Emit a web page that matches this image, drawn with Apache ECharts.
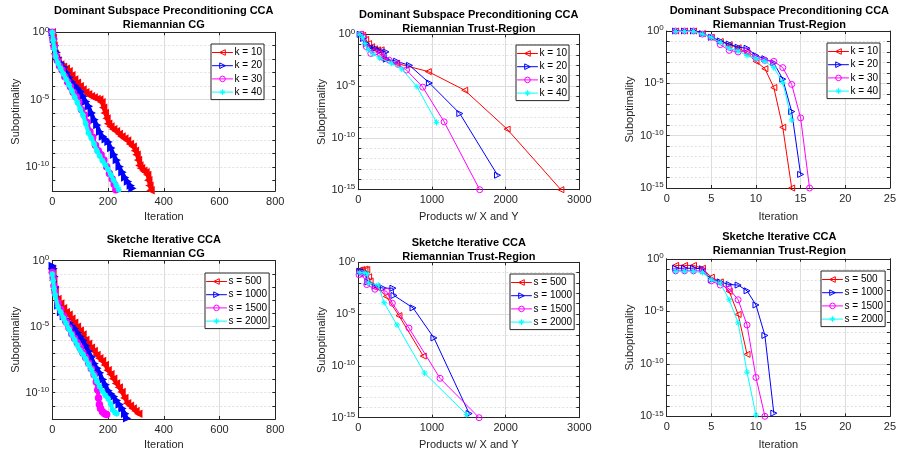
<!DOCTYPE html>
<html>
<head>
<meta charset="utf-8">
<script src="https://cdn.jsdelivr.net/npm/echarts@6/dist/echarts.min.js"></script>
<style>html,body{margin:0;padding:0;background:#fff}#c{width:899px;height:456px}</style>
</head>
<body>
<div id="c"></div>
<script>
// All y values are log10(suboptimality).
// ---------- Panel 1: Dominant Subspace Preconditioning CCA, Riemannian CG  [iteration, log10]
const dspCgK10 = [[0,0],[3,-0.4],[6,-1.0],[10,-1.6],[15,-1.9],[20,-2.1],[30,-2.4],[40,-2.55],[50,-2.7],[60,-2.9],[70,-3.2],[80,-3.5],[90,-3.75],[100,-4.0],[110,-4.25],[120,-4.45],[130,-4.6],[140,-4.75],[150,-4.85],[160,-4.95],[170,-5.0],[178,-5.2],[184,-5.6],[190,-6.0],[196,-6.4],[202,-6.8],[210,-7.0],[220,-7.2],[230,-7.35],[240,-7.55],[250,-7.75],[260,-7.9],[270,-8.05],[280,-8.3],[290,-8.5],[298,-8.8],[304,-9.1],[309,-9.5],[314,-9.9],[320,-10.1],[328,-10.3],[336,-10.4],[342,-10.6],[346,-11.0],[350,-11.4],[354,-11.75]];
const dspCgK20 = [[0,0],[4,-0.5],[8,-1.0],[14,-1.5],[20,-1.9],[30,-2.3],[40,-2.6],[50,-3.0],[60,-3.35],[70,-3.7],[80,-3.95],[90,-4.15],[100,-4.4],[110,-4.75],[120,-5.15],[130,-5.5],[140,-6.0],[150,-6.5],[160,-6.9],[170,-7.4],[180,-7.75],[190,-7.95],[200,-8.15],[210,-8.6],[220,-9.1],[230,-9.5],[240,-10.0],[250,-10.4],[260,-10.8],[270,-11.1],[280,-11.4],[286,-11.6]];
const dspCgK30 = [[0,0],[3,-0.5],[7,-1.1],[12,-1.7],[18,-2.1],[26,-2.5],[35,-2.8],[45,-3.3],[55,-3.7],[65,-4.05],[75,-4.45],[85,-4.8],[95,-5.2],[105,-5.75],[115,-6.15],[125,-6.7],[135,-7.4],[145,-7.8],[155,-8.4],[165,-8.8],[175,-9.1],[185,-9.5],[195,-10.0],[205,-10.5],[215,-10.9],[222,-11.3],[228,-11.7]];
const dspCgK40 = [[0,0],[3,-0.6],[7,-1.2],[12,-1.8],[20,-2.3],[30,-2.7],[40,-3.1],[50,-3.5],[60,-3.9],[70,-4.35],[80,-4.8],[90,-5.2],[100,-5.7],[110,-6.15],[120,-6.8],[130,-7.5],[140,-7.85],[150,-8.3],[160,-8.8],[170,-9.2],[180,-9.55],[190,-9.85],[200,-10.2],[210,-10.6],[220,-11.0],[230,-11.4],[238,-11.7]];

// ---------- Panel 2: Dominant Subspace Preconditioning CCA, Riemannian Trust-Region  [products, log10]
const dspTrK10 = [[30,0],[60,-0.1],[100,-0.5],[140,-0.9],[180,-1.2],[220,-1.4],[260,-1.5],[310,-1.5],[320,-2.3],[520,-2.8],[950,-3.6],[1445,-5.4],[2020,-9.15],[2750,-15]];
const dspTrK20 = [[25,0],[70,-0.4],[110,-0.9],[160,-1.25],[225,-1.35],[300,-1.6],[375,-1.7],[380,-2.4],[520,-2.6],[695,-3.0],[965,-4.7],[1378,-7.65],[1890,-13.6]];
const dspTrK30 = [[40,0],[75,-0.3],[110,-1.2],[170,-1.85],[230,-1.7],[300,-1.9],[320,-2.2],[420,-2.5],[540,-2.9],[655,-3.45],[875,-5.1],[1165,-8.45],[1648,-15]];
const dspTrK40 = [[20,0],[60,-0.3],[90,-0.9],[135,-1.5],[200,-1.9],[290,-2.3],[450,-2.8],[590,-3.35],[795,-5.05],[1062,-8.5]];

// ---------- Panel 3: Dominant Subspace Preconditioning CCA, Riemannian Trust-Region  [log10 per iteration 1..n]
const dspTrItK10 = [0,0,0,-0.25,-0.6,-1.0,-1.3,-1.6,-2.1,-2.9,-3.6,-5.4,-9.2,-15];
const dspTrItK20 = [0,0,0,-0.25,-0.6,-0.95,-1.25,-1.55,-1.65,-2.35,-2.65,-3.05,-4.6,-7.7,-13.7];
const dspTrItK30 = [0,0,0,-0.3,-0.6,-1.3,-1.85,-2.0,-1.9,-2.6,-2.8,-2.9,-3.5,-5.1,-8.3,-15];
const dspTrItK40 = [-0.05,-0.05,-0.05,-0.3,-0.6,-1.1,-1.65,-1.9,-2.35,-2.65,-2.9,-3.5,-4.9,-8.5];

// ---------- Panel 4: Sketche Iterative CCA, Riemannian CG  [iteration, log10]
const skCgS500 = [[0,-0.6],[2,-0.9],[5,-1.5],[10,-2.2],[20,-2.9],[30,-3.25],[40,-3.6],[50,-3.9],[60,-4.1],[70,-4.4],[80,-4.7],[90,-5.0],[100,-5.3],[110,-5.6],[120,-6.0],[130,-6.3],[140,-6.6],[150,-6.85],[160,-7.15],[170,-7.4],[180,-7.6],[190,-7.9],[200,-8.3],[210,-8.6],[220,-8.95],[230,-9.3],[240,-9.6],[250,-9.95],[260,-10.4],[270,-10.8],[280,-11.0],[290,-11.2],[300,-11.4],[310,-11.6]];
const skCgS1000 = [[0,-0.4],[3,-0.6],[6,-1.2],[10,-2.0],[20,-3.4],[30,-3.9],[40,-4.2],[50,-4.45],[60,-4.7],[70,-4.95],[80,-5.15],[90,-5.45],[100,-5.75],[110,-6.05],[120,-6.45],[130,-6.85],[140,-7.3],[150,-7.8],[160,-8.15],[170,-8.5],[180,-9.0],[190,-9.4],[200,-9.85],[210,-10.1],[220,-10.3],[230,-10.6],[240,-10.9],[250,-11.2],[260,-11.6],[267,-11.95]];
const skCgS1500 = [[0,-0.9],[3,-1.3],[6,-1.9],[10,-2.4],[20,-3.2],[30,-3.7],[40,-4.2],[50,-4.65],[60,-5.1],[70,-5.55],[80,-5.9],[90,-6.25],[100,-6.6],[110,-7.0],[120,-7.35],[130,-7.75],[140,-8.2],[150,-8.65],[158,-9.2],[163,-9.8],[166,-10.4],[169,-10.9],[173,-11.2],[180,-11.45],[188,-11.6],[195,-11.65]];
const skCgS2000 = [[0,-1.0],[3,-1.5],[6,-2.1],[10,-2.6],[20,-3.5],[30,-3.9],[40,-4.35],[50,-4.75],[60,-5.2],[70,-5.6],[80,-6.0],[90,-6.4],[100,-6.8],[110,-7.1],[120,-7.45],[130,-7.85],[140,-8.25],[150,-8.7],[160,-9.15],[170,-9.55],[180,-9.9],[190,-10.2],[200,-10.45],[210,-10.9],[216,-11.3],[224,-11.5],[231,-11.6]];

// ---------- Panel 5: Sketche Iterative CCA, Riemannian Trust-Region  [products, log10]
const skTrS500 = [[15,-0.75],[50,-0.7],[90,-0.65],[115,-0.7],[140,-1.4],[160,-1.8],[250,-2.4],[380,-3.3],[552,-5.15],[882,-9.05]];
const skTrS1000 = [[20,-0.85],[60,-0.9],[90,-1.0],[130,-1.9],[230,-2.3],[340,-2.5],[470,-2.5],[484,-3.2],[743,-4.4],[1027,-7.3],[1505,-14.6]];
const skTrS1500 = [[10,-1.2],[50,-1.1],[100,-1.3],[115,-2.15],[225,-2.6],[385,-2.8],[462,-3.95],[688,-6.35],[1110,-11.2],[1640,-15]];
const skTrS2000 = [[20,-1.0],[80,-1.0],[120,-1.1],[140,-2.0],[270,-2.2],[350,-3.9],[525,-6.05],[900,-10.7],[1470,-14.7]];

// ---------- Panel 6: Sketche Iterative CCA, Riemannian Trust-Region  [log10 per iteration 1..n]
const skTrItS500 = [-0.63,-0.63,-0.63,-0.9,-1.75,-2.2,-3.1,-5.3,-9.1];
const skTrItS1000 = [-0.9,-0.9,-0.9,-0.95,-2.0,-2.2,-2.45,-2.5,-3.05,-4.4,-7.3,-14.7];
const skTrItS1500 = [-1.15,-1.15,-1.15,-1.15,-2.1,-2.5,-2.85,-3.9,-6.3,-11.3,-15];
const skTrItS2000 = [-1.2,-1.2,-1.2,-1.3,-2.0,-2.3,-3.9,-6.1,-10.8,-14.9];

// ---------- labels
const kNames = ['k = 10', 'k = 20', 'k = 30', 'k = 40'];
const sNames = ['s = 500', 's = 1000', 's = 1500', 's = 2000'];
const titles = [
  ['Dominant Subspace Preconditioning CCA', 'Riemannian CG'],
  ['Dominant Subspace Preconditioning CCA', 'Riemannian Trust-Region'],
  ['Dominant Subspace Preconditioning CCA', 'Riemannian Trust-Region'],
  ['Sketche Iterative CCA', 'Riemannian CG'],
  ['Sketche Iterative CCA', 'Riemannian Trust-Region'],
  ['Sketche Iterative CCA', 'Riemannian Trust-Region']
];
const xNames = ['Iteration', 'Products w/ X and Y', 'Iteration', 'Iteration', 'Products w/ X and Y', 'Iteration'];
const yName = 'Suboptimality';

// ---------- styling / layout
const FONT = '"Liberation Sans", Arial, Helvetica, sans-serif';
const AX = '#262626';
const COLORS = ['#ff0000', '#0000ff', '#ff00ff', '#00ffff'];
const SYMBOLS = ['path://M0,5L10,0L10,10Z', 'path://M10,5L0,0L0,10Z', 'circle',
  'path://M5,0L5,10M0,5L10,5M1.5,1.5L8.5,8.5M8.5,1.5L1.5,8.5'];
const CLEAR = 'rgba(0,0,0,0)';

const toPairs = arr => arr.map((v, i) => [i + 1, v]);

const panels = [
  { grid: {left: 52.3, top: 32.3, width: 223, height: 158.7}, x: [0, 800, 200], yMin: -11.8, xGap: 20, yGap: 31,
    titleTop: 4, legend: [211, 44], names: kNames, dense: true,
    data: [dspCgK10, dspCgK20, dspCgK30, dspCgK40] },
  { grid: {left: 358.3, top: 34.3, width: 221, height: 155.4}, x: [0, 3000, 1000], yMin: -15, xGap: 22, yGap: 29,
    titleTop: 7.5, legend: [516, 45], names: kNames, dense: false,
    data: [dspTrK10, dspTrK20, dspTrK30, dspTrK40] },
  { grid: {left: 666.7, top: 31, width: 225.3, height: 157}, x: [0, 25, 5], yMin: -15, xGap: 23, yGap: 31,
    titleTop: 3.5, legend: [827, 43], names: kNames, dense: false,
    data: [toPairs(dspTrItK10), toPairs(dspTrItK20), toPairs(dspTrItK30), toPairs(dspTrItK40)] },
  { grid: {left: 52.3, top: 260.7, width: 223, height: 158.3}, x: [0, 800, 200], yMin: -12, xGap: 20, yGap: 31,
    titleTop: 232.5, legend: [205, 273], names: sNames, dense: true,
    data: [skCgS500, skCgS1000, skCgS1500, skCgS2000] },
  { grid: {left: 358.3, top: 262.3, width: 221, height: 155.4}, x: [0, 3000, 1000], yMin: -15, xGap: 22, yGap: 29,
    titleTop: 236, legend: [510, 274], names: sNames, dense: false,
    data: [skTrS500, skTrS1000, skTrS1500, skTrS2000] },
  { grid: {left: 666.7, top: 258.8, width: 225.3, height: 157.5}, x: [0, 25, 5], yMin: -15, xGap: 23, yGap: 31,
    titleTop: 229.5, legend: [821, 271], names: sNames, dense: false,
    data: [toPairs(skTrItS500), toPairs(skTrItS1000), toPairs(skTrItS1500), toPairs(skTrItS2000)] }
];

const option = {
  animation: false, backgroundColor: '#fff',
  grid: [], xAxis: [], yAxis: [], series: [], title: [], legend: []
};

panels.forEach((p, gi) => {
  option.grid.push(Object.assign({show: false, containLabel: false}, p.grid));
  const majors = [], decades = [];
  for (let d = 0; d >= p.yMin; d--) { decades.push(d); if (d % 5 === 0) majors.push(d); }
  const tickCommon = {show: true, inside: true, length: 3, lineStyle: {color: AX, width: 1}};
  // x axes (bottom with labels, top for the box)
  option.xAxis.push({
    gridIndex: gi, type: 'value', position: 'bottom', min: p.x[0], max: p.x[1], interval: p.x[2],
    axisLine: {show: true, onZero: false, lineStyle: {color: AX, width: 1}},
    axisTick: tickCommon,
    axisLabel: {color: AX, fontSize: 11, fontFamily: FONT, margin: 5, formatter: v => String(v)},
    splitLine: {show: true, showMinLine: false, showMaxLine: false, lineStyle: {color: '#dcdcdc', width: 1}},
    name: xNames[gi], nameLocation: 'middle', nameGap: p.xGap,
    nameTextStyle: {color: AX, fontSize: 11, fontFamily: FONT}
  });
  option.xAxis.push({
    gridIndex: gi, type: 'value', position: 'top', min: p.x[0], max: p.x[1], interval: p.x[2],
    axisLine: {show: true, onZero: false, lineStyle: {color: AX, width: 1}},
    axisTick: tickCommon, axisLabel: {show: false}, splitLine: {show: false}
  });
  // y axes: left (labels + minor dotted grid), right (box), major solid grid
  option.yAxis.push({
    gridIndex: gi, type: 'value', position: 'left', min: p.yMin, max: 0,
    axisLine: {show: true, onZero: false, lineStyle: {color: AX, width: 1}},
    axisTick: Object.assign({customValues: decades}, tickCommon),
    axisLabel: {
      customValues: majors, color: AX, fontFamily: FONT, margin: 3,
      formatter: v => '{b|10}{s|' + Math.round(v) + '}',
      rich: {
        b: {fontSize: 11, color: AX, fontFamily: FONT},
        s: {fontSize: 8, color: AX, fontFamily: FONT, verticalAlign: 'top', padding: [0, 0, 6, 0]}
      }
    },
    splitLine: {show: true, showMinLine: false, showMaxLine: false,
      lineStyle: {color: '#e0e0e0', width: 1, type: [2, 2]}},
    name: yName, nameLocation: 'middle', nameGap: p.yGap,
    nameTextStyle: {color: AX, fontSize: 11, fontFamily: FONT}
  });
  option.yAxis.push({
    gridIndex: gi, type: 'value', position: 'right', min: p.yMin, max: 0,
    axisLine: {show: true, onZero: false, lineStyle: {color: AX, width: 1}},
    axisTick: Object.assign({customValues: decades}, tickCommon),
    axisLabel: {show: false}, splitLine: {show: false}
  });
  option.yAxis.push({
    gridIndex: gi, type: 'value', position: 'left', min: p.yMin, max: 0,
    axisLine: {show: false}, axisTick: {show: false, customValues: majors}, axisLabel: {show: false},
    splitLine: {show: true, showMinLine: false, showMaxLine: false, lineStyle: {color: '#dcdcdc', width: 1}}
  });
  // series
  p.data.forEach((d, si) => {
    option.series.push({
      name: p.names[si], type: 'line', xAxisIndex: 2 * gi, yAxisIndex: 3 * gi, data: d,
      symbol: SYMBOLS[si], symbolSize: 6, showSymbol: true, showAllSymbol: true,
      lineStyle: {color: COLORS[si], width: p.dense ? 4 : 1, join: 'round', cap: 'round'},
      itemStyle: {color: p.dense ? COLORS[si] : CLEAR, borderColor: COLORS[si], borderWidth: p.dense ? 1.5 : 1},
      emphasis: {disabled: true}, silent: true, z: 3 + si
    });
  });
  // title
  const cx = p.grid.left + p.grid.width / 2;
  option.title.push({
    text: titles[gi][0] + '\n' + titles[gi][1], left: cx, top: p.titleTop, textAlign: 'center', padding: 0,
    textStyle: {fontSize: 11, fontWeight: 'bold', color: '#000', fontFamily: FONT, lineHeight: 14}
  });
  // legend
  option.legend.push({
    orient: 'vertical', left: p.legend[0], top: p.legend[1], padding: [3, 2, 2, 1],
    itemGap: 2.2, itemWidth: 20, itemHeight: 7, selectedMode: false,
    backgroundColor: '#fff', borderColor: AX, borderWidth: 1, borderRadius: 0,
    textStyle: {fontSize: 10, color: '#000', fontFamily: FONT, lineHeight: 11, padding: [0, 0, 0, -3]},
    lineStyle: {width: 1},
    data: p.names.map((n, i) => ({
      name: n, itemStyle: {color: CLEAR, borderColor: COLORS[i], borderWidth: 1},
      lineStyle: {color: COLORS[i], width: 1}
    }))
  });
});

const chart = echarts.init(document.getElementById('c'), null, {renderer: 'canvas'});
chart.setOption(option);
</script>
</body>
</html>
